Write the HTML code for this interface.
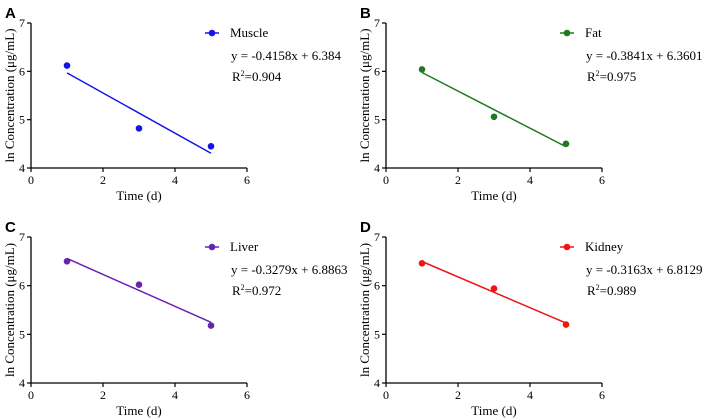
<!DOCTYPE html>
<html><head><meta charset="utf-8"><style>
html,body{margin:0;padding:0;background:#fff;}
svg{display:block;font-family:"Liberation Serif",serif;}
</style></head><body>
<svg id="fig" width="703" height="419" viewBox="0 0 703 419"></svg>
<script>
const panelLetters = ["A","B","C","D"];
const seriesNames = ["Muscle","Fat","Liver","Kidney"];
const colors = ["#1414e6","#1e7a1e","#6a22b0","#f01414"];
const timeValues = [1,3,5];
const muscleValues = [6.12,4.82,4.45];
const fatValues = [6.04,5.06,4.50];
const liverValues = [6.50,6.02,5.18];
const kidneyValues = [6.46,5.94,5.20];
const slopes = [-0.4158,-0.3841,-0.3279,-0.3163];
const intercepts = [6.384,6.3601,6.8863,6.8129];
const equations = ["y = -0.4158x + 6.384","y = -0.3841x + 6.3601","y = -0.3279x + 6.8863","y = -0.3163x + 6.8129"];
const r2Labels = ["0.904","0.975","0.972","0.989"];
const xTicks = [0,2,4,6];
const yTicks = [4,5,6,7];
const allValues = [muscleValues,fatValues,liverValues,kidneyValues];

const NS="http://www.w3.org/2000/svg";
const svg=document.getElementById('fig');
function mk(tag,attrs,parent,text){const e=document.createElementNS(NS,tag);for(const k in attrs)e.setAttribute(k,attrs[k]);if(text!==undefined)e.textContent=text;(parent||svg).appendChild(e);return e;}
const origins=[[31,23],[386,23],[31,237],[386,237]];
origins.forEach((o,i)=>{
  const ox=o[0], top=o[1], W=216, H=(i<2?145:146), bot=top+H;
  const sx=v=>ox+v/6*W;
  const sy=v=>bot-(v-4)/3*H;
  const g=mk('g',{});
  
  
  const L=mk('text',{x:ox-26,y:top-5,'font-family':'"Liberation Sans",sans-serif','font-weight':'bold','font-size':15},g,panelLetters[i]);
  
  const ax=mk('path',{d:`M${ox},${top} V${bot} H${ox+W}`,stroke:'#000','stroke-width':1.3,fill:'none'},g);
  
  yTicks.forEach(t=>{mk('line',{x1:ox-4,x2:ox,y1:sy(t),y2:sy(t),stroke:'#000','stroke-width':1.2},g);
    const tl=mk('text',{x:ox-6,y:sy(t)+4,'text-anchor':'end','font-size':12},g,t);
    });
  xTicks.forEach(t=>{mk('line',{x1:sx(t),x2:sx(t),y1:bot,y2:bot+4,stroke:'#000','stroke-width':1.2},g);
    const tl=mk('text',{x:sx(t),y:bot+16,'text-anchor':'middle','font-size':12},g,t);
    });
  const xt=mk('text',{x:ox+W/2,y:bot+32,'text-anchor':'middle','font-size':13},g,'Time (d)');
  
  const yt=mk('text',{x:0,y:0,'text-anchor':'middle','font-size':13,transform:`translate(${ox-17},${(top+bot)/2}) rotate(-90)`},g,'ln Concentration (μg/mL)');
  
  const c=colors[i];
  const fl=mk('line',{x1:sx(1),y1:sy(slopes[i]*1+intercepts[i]),x2:sx(5),y2:sy(slopes[i]*5+intercepts[i]),stroke:c,'stroke-width':1.5},g);
  
  allValues[i].forEach((v,j)=>{const p=mk('circle',{cx:sx(timeValues[j]),cy:sy(v),r:3.3,fill:c},g);
    });
  const lx=ox+174, ly=top+10;
  const lg=mk('g',{},g);
  
  mk('line',{x1:lx,x2:lx+14,y1:ly,y2:ly,stroke:c,'stroke-width':1.5},lg);
  mk('circle',{cx:lx+7,cy:ly,r:3.3,fill:c},lg);
  mk('text',{x:lx+25,y:ly+4,'font-size':13},lg,seriesNames[i]);
  const eq=mk('text',{x:lx+26,y:ly+27,'font-size':13},g,equations[i]);
  
  const r=mk('text',{x:lx+27,y:ly+48,'font-size':13},g);
  
  mk('tspan',{},r,'R');mk('tspan',{'font-size':8,dy:-5},r,'2');mk('tspan',{dy:5},r,'='+r2Labels[i]);
});
</script>
</body></html>
